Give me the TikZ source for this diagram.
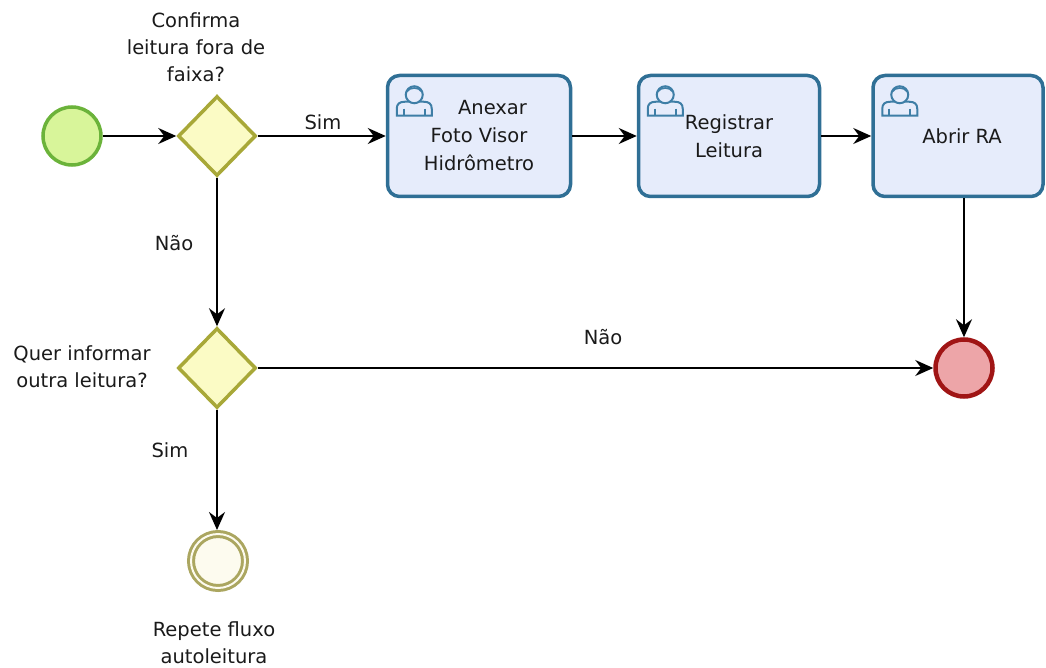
\documentclass[tikz,border=0pt]{standalone}
\usepackage{fontspec}
\setmainfont{DejaVu Sans}
\usetikzlibrary{arrows.meta,shapes.geometric}
\definecolor{startfill}{HTML}{D8F59A}
\definecolor{startborder}{HTML}{6BB33A}
\definecolor{gwfill}{HTML}{FBFBC5}
\definecolor{gwborder}{HTML}{A8A838}
\definecolor{taskfill}{HTML}{E6ECFB}
\definecolor{taskborder}{HTML}{2F6F95}
\definecolor{endfill}{HTML}{EDA5A8}
\definecolor{endborder}{HTML}{A01515}
\definecolor{intfill}{HTML}{FDFBEF}
\definecolor{intborder}{HTML}{ABA660}
\definecolor{iconline}{HTML}{3E7EA6}
\definecolor{txt}{HTML}{1A1A1A}
\tikzset{
  every node/.style={text=txt, font=\fontsize{19.5}{28}\selectfont},
  taskbox/.style={rectangle, rounded corners=12pt, draw=taskborder, line width=3.5pt,
    fill=taskfill, minimum height=121pt, align=center, inner sep=0pt},
  gateway/.style={diamond, draw=gwborder, fill=gwfill, line width=3.5pt,
    minimum width=78pt, minimum height=80pt, inner sep=0pt},
  startev/.style={circle, draw=startborder, fill=startfill, line width=3.5pt,
    minimum size=58pt, inner sep=0pt},
  endev/.style={circle, draw=endborder, fill=endfill, line width=4.5pt,
    minimum size=57pt, inner sep=0pt},
  intev/.style={circle, draw=intborder, double=intfill, double distance=2pt,
    line width=3pt, fill=intfill, minimum size=54pt, inner sep=0pt, outer sep=4pt},
  lbl/.style={align=center, inner sep=0pt, font=\fontsize{19.5}{27}\selectfont},
  flow/.style={draw=black, line width=2.2pt, -{Stealth[length=18pt,width=16pt,inset=6pt]}},
  usericon/.pic={
    \draw[iconline, line width=2pt, fill=taskfill]
      (11,42) -- (11,35) .. controls (11,30) and (14,28) .. (19,28) -- (38,28)
      .. controls (43,28) and (46,30) .. (46,35) -- (46,42) -- cycle;
    \draw[iconline, line width=1.6pt] (18,35) -- (18,42) (39,35) -- (39,42);
    \draw[iconline, line width=2pt, fill=taskfill] (28.5,21) circle (8.5pt);
    \draw[iconline, line width=1.6pt] (21,18) .. controls (24,13) and (33,13) .. (36,18);
  }
}
\begin{document}
\begin{tikzpicture}[x=1pt,y=-1pt]
\useasboundingbox (0,0) rectangle (1046,668);

\node[startev] (start) at (72,136) {};
\node[gateway] (gw1) at (217,136) {};
\node[taskbox, minimum width=183pt] (t1) at (479,136) {\hspace*{27pt}Anexar\\Foto Visor\\Hidrômetro};
\node[taskbox, minimum width=181pt] (t2) at (729,136) {Registrar\\Leitura};
\node[taskbox, minimum width=170pt] (t3) at (958,136) {\hspace*{8pt}Abrir RA};
\node[gateway] (gw2) at (217,368) {};
\node[endev] (end) at (964,368) {};
\node[intev] (int) at (218,561) {};

\pic at (t1.north west) {usericon};
\pic at (t2.north west) {usericon};
\pic at (t3.north west) {usericon};

\node[lbl] (lconf) at (196,47) {Confirma\\leitura fora de\\faixa?};
\node[lbl] (lsim1) at (323,122) {Sim};
\node[lbl] (lnao1) at (174,243) {Não};
\node[lbl] (lquer) at (82,367) {Quer informar\\outra leitura?};
\node[lbl] (lsim2) at (170,450) {Sim};
\node[lbl] (lnao2) at (603,337) {Não};
\node[lbl] (lrep) at (214,643) {Repete fluxo\\autoleitura};

\draw[flow] (start) -- (gw1);
\draw[flow] (gw1) -- (t1);
\draw[flow] (t1) -- (t2);
\draw[flow] (t2) -- (t3);
\draw[flow] (end.north |- t3.south) -- (end);
\draw[flow] (gw1) -- (gw2);
\draw[flow] (gw2) -- (end);
\draw[flow] (gw2) -- (gw2.south |- int.north);
\end{tikzpicture}
\end{document}
